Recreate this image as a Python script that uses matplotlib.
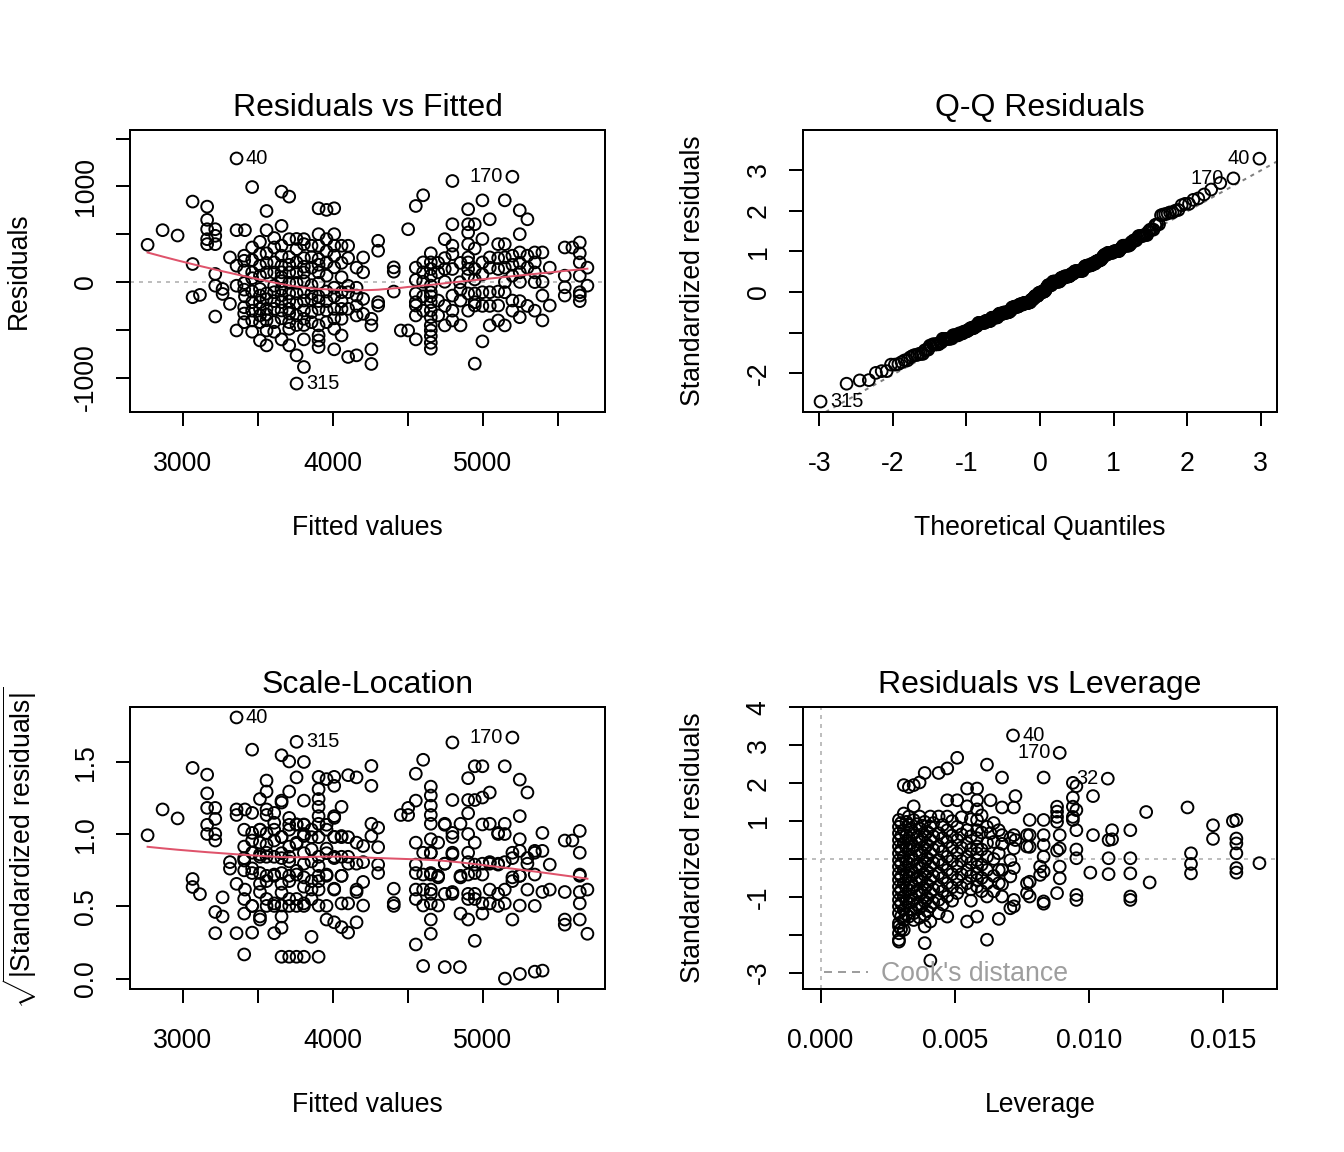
import numpy as np
import matplotlib
matplotlib.use("Agg")
import matplotlib.pyplot as plt
from matplotlib.lines import Line2D
from statistics import NormalDist

plt.rcParams['font.family'] = ['Liberation Sans', 'DejaVu Sans']
plt.rcParams['mathtext.fontset'] = 'custom'
plt.rcParams['mathtext.rm'] = 'Liberation Sans'
plt.rcParams['axes.unicode_minus'] = False

# fitted values / residuals read off the "Residuals vs Fitted" panel
# first three are the labelled observations 40, 170, 315
fitted_vals = [
    3358, 5197, 3758,
    2765, 2865, 2965, 3065, 3162, 3162, 3162, 3162, 3162, 3216, 3216, 3216,
    3065, 3065, 3114, 3216, 3216, 3216, 3265, 3265, 3314, 3314, 3358, 3414,
    3358, 3358, 3358, 3409, 3409, 3409, 3409, 3409, 3462, 3462, 3462, 3462,
    3514, 3514, 3514, 3514, 3514, 3514, 3514, 3514, 3514, 3558, 3558, 3558,
    3558, 3558, 3609, 3609, 3609, 3609, 3609, 3658, 3709, 3658, 3658, 3658,
    3658, 3658, 3658, 3658, 3658, 3658, 3658, 3709, 3709, 3709, 3709, 3709,
    3758, 3758, 3758, 3758, 3758, 3807, 3807, 3807, 3807, 3807, 3807, 3807,
    3807, 3807, 3858, 3858, 3858, 3905, 3958, 4009, 3905, 3905, 3905, 3905,
    3905, 3905, 3905, 3905, 3905, 3905, 3958, 3958, 3958, 3958, 3958, 4009,
    4009, 4009, 4009, 4009, 4009, 4058, 4058, 4058, 4058, 4058, 4102, 4102,
    4102, 4102, 4158, 4158, 4158, 4202, 4202, 4202, 4202,
    3462, 3462, 3558, 3558, 3609, 3709, 3709, 3758, 3807, 3858, 3858, 3958,
    4009, 4058, 3414, 3558,
    3409, 3409, 3409, 3462, 3462, 3462, 3462, 3514, 3514, 3558, 3558, 3558,
    3558, 3609, 3609, 3609, 3609, 3658, 3658, 3658, 3709, 3709, 3709, 3709,
    3709, 3758, 3758, 3758, 3758, 3807, 3807, 3807, 3858, 3858, 3858, 3905,
    3905, 3905, 3958, 3958, 4009, 4009, 4009, 4058, 4058, 4102, 4102, 4158,
    4158, 4158,
    4797, 4602, 4553, 4502, 4302, 4302, 4406, 4406, 4406, 4302, 4302, 4257,
    4257, 4257, 4257, 4453, 4502, 4553, 4553, 4553, 4553, 4553, 4602, 4602,
    4602, 4653, 4653, 4653, 4653, 4653, 4653, 4653, 4653, 4653, 4653, 4653,
    4653, 4653, 4702, 4702, 4746, 4746, 4746, 4746, 4797, 4797, 4797, 4797,
    4797, 4851, 4851, 4847, 4902, 4902, 4902, 4902, 4902, 4902, 4902, 4902,
    4946, 4946, 4946, 4946, 4946, 4946, 4997, 4997, 4997, 4997, 5046, 5046,
    5046, 5102, 5102, 5102, 5102, 5146, 5146, 5146, 5146, 5146, 5197, 5197,
    5197, 5246, 5246, 5246, 5246, 5246, 5297, 5297, 5346, 5346, 5346, 5397,
    5397, 5397, 5446, 5546, 5546, 5546, 5546, 5597, 5646, 5646, 5646, 5646,
    5646, 5697, 5046, 5147, 5247, 5398,
    4553, 4553, 4602, 4602, 4653, 4653, 4702, 4702, 4746, 4746, 4797, 4797,
    4851, 4851, 4902, 4902, 4946, 4946, 4997, 4997, 4997, 5046, 5046, 5102,
    5102, 5146, 5197, 5197, 5246, 5246, 5297, 5297, 5346, 5346, 5446, 5646,
    5646, 5697,
]
resid_vals = [
    1292, 1101, -1062,
    389, 542, 486, 841, 788, 650, 552, 448, 396, 552, 483, 396,
    188, -159, -135, 84, -39, -361, -73, -125, 257, -229, 542, 542,
    -507, 170, -39, 275, 222, -11, -264, -420, 993, 361, -211, -402,
    292, 170, 66, -73, -142, -211, -281, -350, -611, 743, 542, -281,
    -507, -663, 361, 205, -107, -281, -420, 945, 893, 587, 275, 170,
    101, 49, 9, -73, -211, -298, -600, 448, -281, -420, -489, -663,
    344, 205, -9, -350, -767, 448, 396, 9, -107, -194, -298, -385,
    -600, -889, 379, -33, -316, 771, 754, 771, 500, 379, 240, 101,
    -9, -281, -454, -559, -611, -680, 448, 205, 66, -298, -420, 500,
    275, 153, -281, -489, -704, 379, -107, -281, -385, -559, 379, -107,
    -281, -784, -767, -142, -350, 257, 101, -177, -333,
    100, -100, 100, -120, -39, 100, -9, -120, 100, 150, -180, -100,
    -150, 50, -150, -400,
    120, -80, -330, 230, 40, -300, -520, 420, -420, 300, 200, -180,
    -340, 460, 100, -200, -520, 380, -140, -380, 260, 180, -120, -200,
    -330, 450, 100, -220, -450, 250, 160, -450, 260, -120, -420, 180,
    -150, -200, 320, -200, 380, -60, -380, 200, -200, 250, -40, 150,
    -60, -250,
    1056, 907, 795, 552, 431, 327, 153, 108, -100, -211, -246, -385,
    -454, -704, -857, -507, -507, -600, 22, -211, -246, -350, 205, 101,
    3, 205, 136, 66, -38, -107, -211, -298, -368, -454, -507, -566,
    -635, -698, 101, -194, 448, 136, 2.5, -454, 604, 292, 136, -142,
    -402, -454, -194, -2.5, 761, 604, 518, 396, 257, 205, 136, 66,
    604, 136, 27, -211, -246, -854, 854, 205, -107, -621, 656, 257,
    -454, 396, 136, -246, -402, 854, 396, 257, -107, -454, 275, 66,
    -194, 750, 500, 309, 101, -368, 656, 275, 309, 205, -0.9, 309,
    -142, -402, -246, 361, 66, -55, -142, 361, 413, 205, 66, -107,
    -142, -38, -107, 0, 0.4, 1.2,
    150, -120, -150, -300, 300, -150, 200, -350, 250, -250, 380, -300,
    200, -80, -120, -300, 350, -120, 450, 80, -250, 150, -250, 250,
    -100, 150, 180, -300, 200, -200, 150, -250, 100, -300, 150, 300,
    -200, 150,
]
resid_labels = ["40", "170", "315"]
resid_se = 394.0   # residual standard error of the model

lev_pairs_cols = {
    0.00292: [1.03, 0.85, 0.68, 0.50, 0.33, 0.15, -0.03, -0.20, -0.38, -0.55, -0.73,
              -0.90, -1.08, -1.25, -1.43, -1.69, -1.78, -1.96, -2.13, -2.18],
    0.00300: [0.95, 0.60, 0.24, -0.12, -0.47, -0.82, -1.17, -1.52, -1.85],
    0.00310: [1.95, 1.20, 0.76, 0.42, 0.06, -0.29, -0.64, -0.99, -1.34, -1.61, -1.87],
    0.00320: [0.98, 0.62, 0.28, -0.08, -0.44, -0.78, -1.13, -1.47],
    0.00329: [1.90, 1.12, 0.90, 0.55, 0.25, -0.12, -0.46, -0.82, -1.16, -1.52],
    0.00338: [0.78, 0.42, 0.07, -0.28, -0.63, -0.98, -1.33],
    0.00347: [1.95, 1.39, 1.03, 0.68, 0.33, -0.03, -0.38, -0.73, -1.08, -1.43, -1.61],
    0.00358: [0.92, 0.57, 0.22, -0.15, -0.50, -0.85, -1.20],
    0.00369: [2.02, 1.12, 0.80, 0.45, 0.10, -0.25, -0.60, -0.95, -1.30, -1.55],
    0.00378: [0.88, 0.52, 0.17, -0.18, -0.53, -0.88, -1.23],
    0.00388: [2.27, 0.98, 0.63, 0.28, -0.08, -0.42, -0.78, -1.12, -1.47, -1.78, -2.22],
    0.00398: [0.72, 0.37, 0.02, -0.33, -0.68, -1.03, -1.38],
    0.00409: [1.12, 0.85, 0.50, 0.15, -0.20, -0.55, -0.90, -1.25, -1.65, -2.68],
    0.00420: [0.95, 0.60, 0.25, -0.10, -0.45, -0.80, -1.15],
    0.00440: [2.27, 1.12, 0.68, 0.33, -0.03, -0.38, -0.73, -1.08, -1.43],
    0.00455: [0.90, 0.55, 0.20, -0.15, -0.50, -0.85, -1.20],
    0.00472: [2.39, 1.55, 1.12, 0.76, 0.45, 0.06, -0.29, -0.64, -0.99, -1.52],
    0.00490: [1.00, 0.62, 0.30, -0.05, -0.40, -0.75, -1.10],
    0.00509: [2.67, 1.55, 0.85, 0.50, 0.15, -0.20, -0.55, -0.90],
    0.00525: [1.10, 0.65, 0.30, -0.05, -0.40, -0.75],
    0.00546: [1.86, 1.39, 0.76, 0.42, 0.06, -0.29, -0.64, -1.65],
    0.00560: [1.05, 0.60, 0.25, -0.10, -0.45, -0.80, -1.10],
    0.00583: [1.86, 1.55, 1.31, 1.03, 0.76, 0.55, 0.33, 0.15, -0.03, -0.20, -0.38,
              -0.55, -0.73, -1.52],
    0.00600: [1.15, 0.70, 0.25, -0.15, -0.50, -0.85],
    0.00620: [2.49, 0.85, 0.42, 0.06, -0.29, -0.64, -0.99, -2.13],
    0.00633: [1.55, 0.68],
    0.00645: [0.95, 0.45, 0.0, -0.45, -0.85],
    0.00664: [0.76, 0.15, -0.29, -0.64, -1.58],
    0.00676: [2.15, 1.36, 0.63, 0.40, -0.29, -0.67, -0.99],
    0.00707: [0.55, -0.03, -0.46, -1.30],
    0.00720: [1.36, 0.63, 0.28, -0.24, -1.08, -1.25],
    0.00726: [1.66, 0.50],
    0.00769: [0.63, 0.33, -0.64, -0.90],
    0.00779: [1.03, 0.63, 0.32, -0.60, -0.99],
    0.00818: [-0.20, -0.42],
    0.00831: [2.15, 1.03, 0.63, 0.37, 0.06, -0.33, -1.12, -1.18],
    0.00881: [1.38, 1.25, 1.11, 0.98, 0.22, -0.90],
    0.00891: [0.63, 0.28, -0.20, -0.51],
    0.00940: [2.01, 1.62, 1.38, 1.11, 1.03],
    0.00953: [1.92, 1.29, 0.76, 0.25, 0.02, -0.95, -1.08],
    0.01005: [-0.36],
    0.01015: [1.66, 0.63],
    0.01073: [0.50, 0.02, -0.40],
    0.01086: [0.76, 0.52],
    0.01154: [0.76, 0.02, -0.38, -0.99, -1.08],
    0.01213: [1.24],
    0.01226: [-0.62],
    0.01367: [1.36],
    0.01380: [0.15, -0.13, -0.38],
    0.01462: [0.89, 0.53],
    0.01536: [1.00],
    0.01549: [1.03, 0.54, 0.41, 0.15, -0.24, -0.36],
    0.01635: [-0.11],
}
# first three are the labelled observations 40, 170, 32
lev_vals = [0.00717, 0.00891, 0.01070]
lev_stdres = [3.26, 2.80, 2.12]
for h, col in lev_pairs_cols.items():
    lev_vals += [h] * len(col)
    lev_stdres += col
lev_labels = ["40", "170", "32"]

# axis ticks (labels R kept after overlap removal)
fit_ticks = [3000, 3500, 4000, 4500, 5000, 5500]
fit_ticklabels = ["3000", "", "4000", "", "5000", ""]
res_ticks = [-1000, -500, 0, 500, 1000, 1500]
res_ticklabels = ["-1000", "", "0", "", "1000", ""]
qq_xticks = [-3, -2, -1, 0, 1, 2, 3]
qq_yticks = [-2, -1, 0, 1, 2, 3]
qq_yticklabels = ["-2", "", "0", "1", "2", "3"]
sl_yticks = [0.0, 0.5, 1.0, 1.5]
lev_xticks = [0.0, 0.005, 0.010, 0.015]
lev_yticks = [-3, -2, -1, 0, 1, 2, 3, 4]
lev_yticklabels = ["-3", "", "-1", "", "1", "2", "3", "4"]

RED = "#DF536B"
GRAY = "#BEBEBE"
GRAY50 = "#7F7F7F"
GRAY62 = "#9E9E9E"
DOT = (0, (2, 2.5))


def lowess(x, y, f=2/3, iters=3):
    # R style lowess smoother
    order = np.argsort(x, kind="mergesort")
    x = np.asarray(x, float)[order]
    y = np.asarray(y, float)[order]
    n = len(x)
    ns = max(min(int(f * n + 1e-7), n), 2)
    rw = np.ones(n)
    fit = np.zeros(n)
    for it in range(iters + 1):
        for i in range(n):
            d = np.abs(x - x[i])
            h = max(np.sort(d)[ns - 1], 1e-12)
            w = np.where(d <= 0.999 * h, (1 - (d / h) ** 3) ** 3, 0.0)
            w[d <= 0.001 * h] = 1.0
            w = w * rw
            sw = w.sum()
            xm = (w * x).sum() / sw
            ym = (w * y).sum() / sw
            sxx = (w * (x - xm) ** 2).sum()
            if sxx > 1e-12 * (x[-1] - x[0]) ** 2:
                b = (w * (x - xm) * (y - ym)).sum() / sxx
            else:
                b = 0.0
            fit[i] = ym + b * (x[i] - xm)
        if it == iters:
            break
        res = y - fit
        s = np.median(np.abs(res))
        u = res / (6 * s)
        rw = np.where(np.abs(u) < 1, (1 - u ** 2) ** 2, 0.0)
    return x, fit


def ext(lo, hi, f=0.04):
    d = (hi - lo) * f
    return lo - d, hi + d


def style_axes(ax):
    for s in ax.spines.values():
        s.set_linewidth(1.5)
    ax.tick_params(length=10.5, width=1.5, labelsize=20, direction="out")
    ax.tick_params(axis="x", pad=18.5)
    ax.tick_params(axis="y", pad=13, labelrotation=90)
    for t in ax.get_yticklabels():
        t.set_va("center")


def scatter(ax, x, y):
    ax.scatter(x, y, s=78, facecolors="none", edgecolors="black", linewidths=1.45, zorder=3)


def label(ax, x, y, txt, side):
    off = 7 if side == "right" else -7
    ax.annotate(txt, (x, y), xytext=(off, 0), textcoords="offset points",
                ha="left" if side == "right" else "right", va="center", fontsize=15, zorder=4)


def titles(ax, title, xlab, ylab):
    ax.text(0.5, 1.078, title, transform=ax.transAxes, ha="center", va="center", fontsize=24)
    ax.text(0.5, -0.411, xlab, transform=ax.transAxes, ha="center", va="center", fontsize=20)
    ax.text(-0.233, 0.5, ylab, transform=ax.transAxes, ha="center", va="center",
            fontsize=20, rotation=90)


fitted = np.array(fitted_vals, float)
resid = np.array(resid_vals, float)
stdres = resid / resid_se
lev = np.array(lev_vals, float)
lrs = np.array(lev_stdres, float)

fig = plt.figure(figsize=(14, 12), dpi=96)
ax1 = fig.add_axes([0.09673, 0.64236, 0.35342, 0.24479])
ax2 = fig.add_axes([0.59747, 0.64236, 0.35268, 0.24479])
ax3 = fig.add_axes([0.09673, 0.14149, 0.35342, 0.24479])
ax4 = fig.add_axes([0.59747, 0.14149, 0.35268, 0.24479])

# --- Residuals vs Fitted
xl = ext(fitted.min(), fitted.max())
yl = ext(*ext(resid.min(), resid.max(), 0.08))
ax1.axhline(0, color=GRAY, ls=DOT, lw=1.5, zorder=1)
scatter(ax1, fitted, resid)
sx, sy = lowess(fitted, resid)
ax1.plot(sx, sy, color=RED, lw=1.5, zorder=4)
for i, name in enumerate(resid_labels):
    side = "right" if fitted[i] < np.mean(xl) else "left"
    label(ax1, fitted[i], resid[i], name, side)
ax1.set_xlim(xl)
ax1.set_ylim(yl)
ax1.set_xticks(fit_ticks, fit_ticklabels)
ax1.set_yticks(res_ticks, res_ticklabels)
style_axes(ax1)
titles(ax1, "Residuals vs Fitted", "Fitted values", "Residuals")

# --- Q-Q Residuals
n = len(stdres)
qs = np.array([NormalDist().inv_cdf((i + 0.5) / n) for i in range(n)])
order = np.argsort(stdres, kind="mergesort")
ys = stdres[order]
scatter(ax2, qs, ys)
q1, q3 = np.quantile(stdres, [0.25, 0.75])
z1, z3 = NormalDist().inv_cdf(0.25), NormalDist().inv_cdf(0.75)
slope = (q3 - q1) / (z3 - z1)
icpt = q1 - slope * z1
ax2.axline((0, icpt), slope=slope, color=GRAY50, ls=DOT, lw=1.5, zorder=2)
rank = {idx: k for k, idx in enumerate(order)}
for i, name in enumerate(resid_labels):
    k = rank[i]
    label(ax2, qs[k], ys[k], name, "left" if qs[k] > 0 else "right")
ax2.set_xlim(ext(qs.min(), qs.max()))
ylo, yhi = stdres.min(), stdres.max()
ax2.set_ylim(ext(ylo, yhi + (yhi - ylo) * 0.075))
ax2.set_xticks(qq_xticks)
ax2.set_yticks(qq_yticks, qq_yticklabels)
style_axes(ax2)
titles(ax2, "Q-Q Residuals", "Theoretical Quantiles", "Standardized residuals")

# --- Scale-Location
sq = np.sqrt(np.abs(stdres))
scatter(ax3, fitted, sq)
sx, sy = lowess(fitted, sq)
ax3.plot(sx, sy, color=RED, lw=1.5, zorder=4)
for i, name in enumerate(resid_labels):
    side = "right" if fitted[i] < np.mean(xl) else "left"
    label(ax3, fitted[i], sq[i], name, side)
ax3.set_xlim(xl)
ax3.set_ylim(ext(0, sq.max()))
ax3.set_xticks(fit_ticks, fit_ticklabels)
ax3.set_yticks(sl_yticks, ["0.0", "0.5", "1.0", "1.5"])
style_axes(ax3)
titles(ax3, "Scale-Location", "Fitted values",
       r"$\sqrt{|\mathrm{Standardized\ residuals}|}$")

# --- Residuals vs Leverage
lxl = ext(0, lev.max())
ax4.axhline(0, color=GRAY, ls=DOT, lw=1.5, zorder=1)
ax4.axvline(0, color=GRAY, ls=DOT, lw=1.5, zorder=1)
scatter(ax4, lev, lrs)
for i, name in enumerate(lev_labels):
    side = "right" if lev[i] < np.mean(lxl) else "left"
    label(ax4, lev[i], lrs[i], name, side)
ax4.set_xlim(lxl)
ax4.set_ylim(ext(*ext(lrs.min(), lrs.max(), 0.08)))
ax4.set_xticks(lev_xticks, ["0.000", "0.005", "0.010", "0.015"])
ax4.set_yticks(lev_yticks, lev_yticklabels)
style_axes(ax4)
titles(ax4, "Residuals vs Leverage", "Leverage", "Standardized residuals")
ax4.legend(handles=[Line2D([], [], color=GRAY62, ls=(0, (4, 3)), lw=1.5)],
           labels=["Cook's distance"], loc="lower left", bbox_to_anchor=(0.032, -0.012),
           frameon=False, fontsize=20, labelcolor=GRAY62, handlelength=1.65,
           handletextpad=0.5, borderaxespad=0.0, borderpad=0.2)

fig.savefig("out.png", dpi=96)
